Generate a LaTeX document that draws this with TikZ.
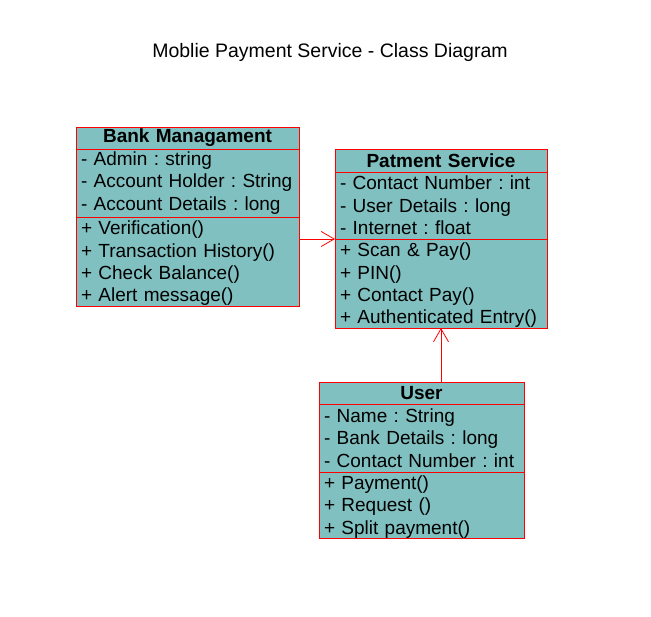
\documentclass[tikz,border=0pt]{standalone}
\usepackage{fontspec}
\setmainfont{Liberation Sans}
\usepackage{xcolor}
\usepackage{tikz}
\usetikzlibrary{arrows.meta, positioning}
\definecolor{classfill}{HTML}{80C0C0}
\definecolor{classline}{HTML}{FF0000}
\frenchspacing

\begin{document}
\begin{tikzpicture}[x=1pt, y=-1pt,
        classpart/.style={draw=classline, fill=classfill, line width=0.8pt, outer sep=0pt,
            inner xsep=5pt, inner ysep=0pt, anchor=north, align=left,
            font=\fontsize{19}{22.3}\selectfont},
        classops/.style={classpart, execute at begin node={\rule{0pt}{17.5pt}}},
        classhead/.style={classpart, align=center, font=\fontsize{19}{22.3}\selectfont\bfseries},
        assoc/.style={draw=classline, line width=0.8pt, -{Straight Barb[length=13pt, width=15pt]}}]
                \useasboundingbox (0, 0) rectangle (651, 617);

                \node[font=\fontsize{19.5}{22.3}\selectfont] (title) at (330, 52) {Moblie Payment Service - Class Diagram};

                % bank managament class
                \node[classhead, text width=213pt, minimum height=22pt] (bank) at (187.5, 127) {Bank Managament};
                \node[classpart, text width=213pt, minimum height=68pt, below=0pt of bank] (bankattr) {- Admin : string\\- Account Holder : String\\- Account Details : long};
                \node[classops, text width=213pt, minimum height=89pt, below=0pt of bankattr] (bankops) {+ Verification()\\+ Transaction History()\\+ Check Balance()\\+ Alert message()};

                % patment service class
                \node[classhead, text width=202pt, minimum height=23pt] (pay) at (441, 149) {Patment Service};
                \node[classpart, text width=202pt, minimum height=67pt, below=0pt of pay] (payattr) {- Contact Number : int\\- User Details : long\\- Internet : float};
                \node[classops, text width=202pt, minimum height=89pt, below=0pt of payattr] (payops) {+ Scan \& Pay()\\+ PIN()\\+ Contact Pay()\\+ Authenticated Entry()};

                % user class
                \node[classhead, text width=195pt, minimum height=22pt] (user) at (421.5, 382) {User};
                \node[classpart, text width=195pt, minimum height=68pt, below=0pt of user] (userattr) {- Name : String\\- Bank Details : long\\- Contact Number : int};
                \node[classops, text width=195pt, minimum height=66pt, below=0pt of userattr] (userops) {+ Payment()\\+ Request ()\\+ Split payment()};

                % associations
                \draw[assoc] (bankops.east |- payops.north) -- (payops.north west);
                \draw[assoc] (user.north -| payops.south) -- (payops.south);
\end{tikzpicture}
\end{document}
